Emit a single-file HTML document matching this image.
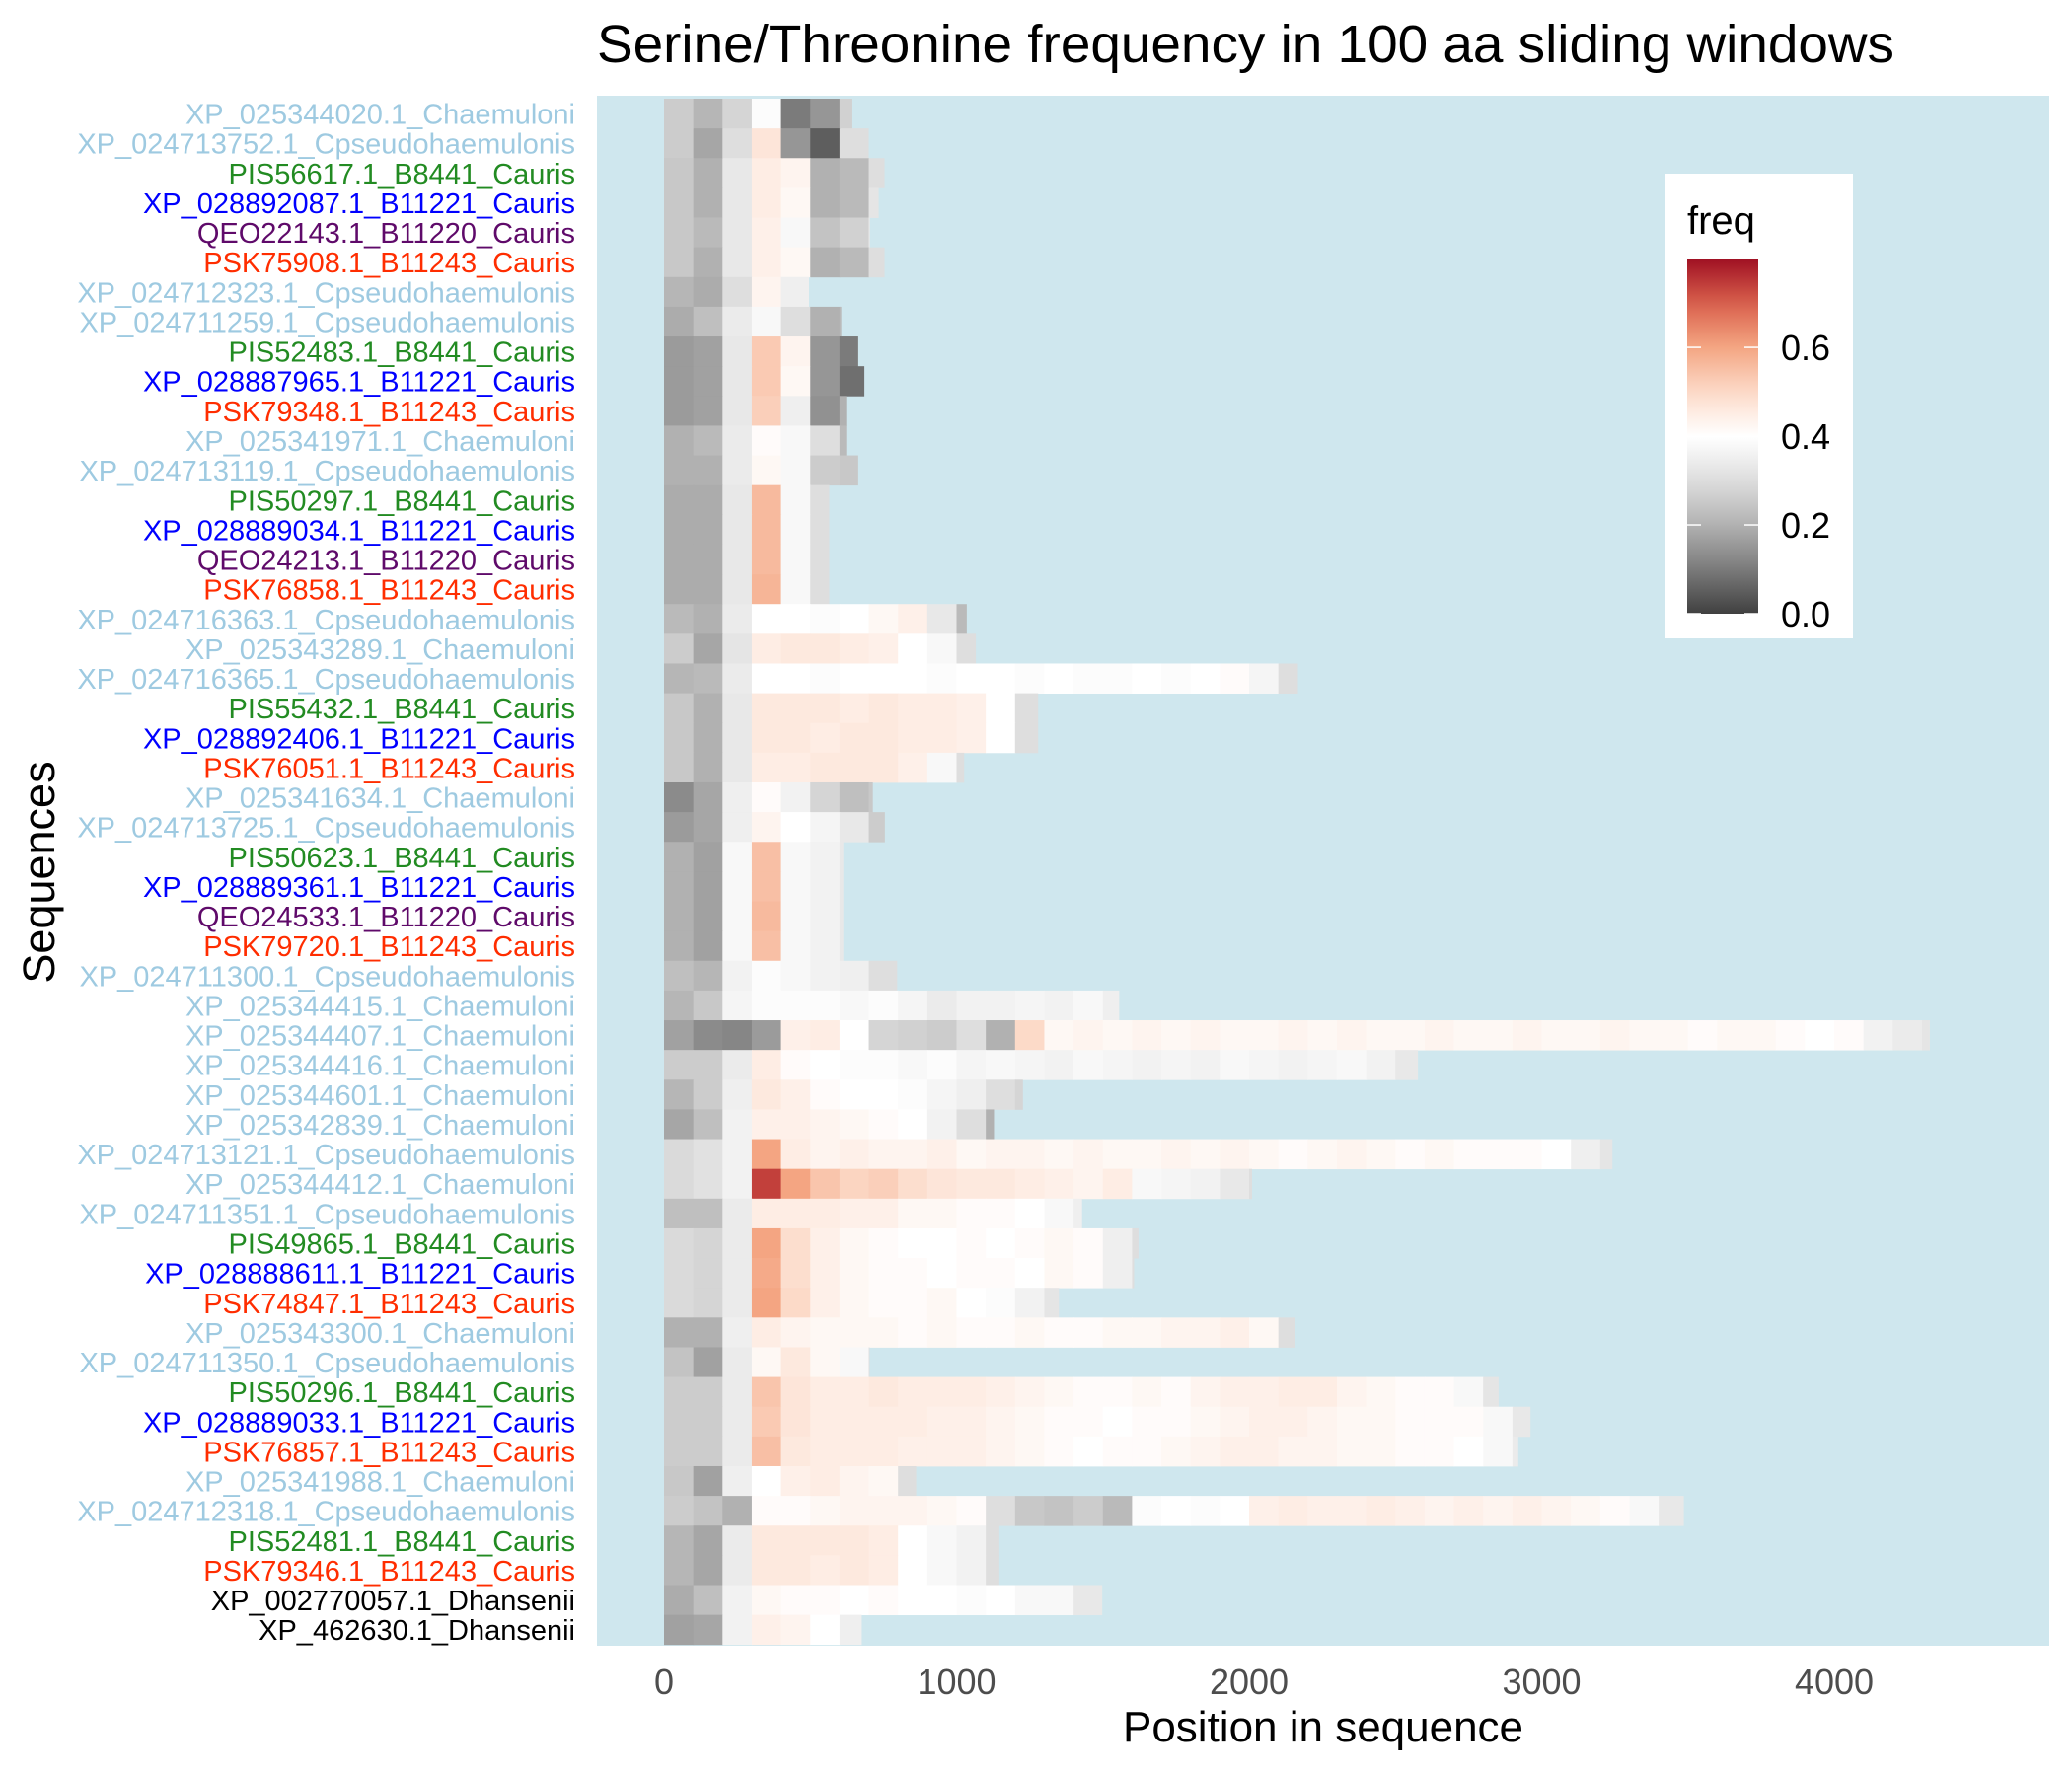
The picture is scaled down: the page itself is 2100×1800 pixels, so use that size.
<!DOCTYPE html>
<html><head><meta charset="utf-8"><title>Serine/Threonine frequency</title>
<style>html,body{margin:0;padding:0;background:#fff;}svg{display:block;font-family:"Liberation Sans",Arial,sans-serif;}</style>
</head><body>
<svg id="chart" width="2100" height="1800" viewBox="0 0 2100 1800" xmlns="http://www.w3.org/2000/svg">
<defs><linearGradient id="cbar" x1="0" y1="1" x2="0" y2="0"></linearGradient></defs>
<rect x="0" y="0" width="2100" height="1800" fill="#fff"/>
<text x="605" y="63" font-size="54" textLength="1315" lengthAdjust="spacingAndGlyphs" fill="#000">Serine/Threonine frequency in 100 aa sliding windows</text>
<rect x="605" y="97" width="1472" height="1571" fill="#cfe7ee"/>
<g id="tiles"></g>
<g id="ylabels"></g>
<g id="xticks"></g>
<text x="1341" y="1765" font-size="44" text-anchor="middle" fill="#000">Position in sequence</text>
<text transform="translate(55,884) rotate(-90)" font-size="45" text-anchor="middle" fill="#000">Sequences</text>
<g id="legend">
<rect x="1687" y="176" width="191" height="471" fill="#fff"/>
<text x="1710" y="237" font-size="40" fill="#000">freq</text>
<rect x="1710" y="263" width="72" height="359" fill="url(#cbar)"/>
<g id="legendticks"></g>
</g>
</svg>
<script>
const names = ["XP_025344020.1_Chaemuloni","XP_024713752.1_Cpseudohaemulonis","PIS56617.1_B8441_Cauris","XP_028892087.1_B11221_Cauris","QEO22143.1_B11220_Cauris","PSK75908.1_B11243_Cauris","XP_024712323.1_Cpseudohaemulonis","XP_024711259.1_Cpseudohaemulonis","PIS52483.1_B8441_Cauris","XP_028887965.1_B11221_Cauris","PSK79348.1_B11243_Cauris","XP_025341971.1_Chaemuloni","XP_024713119.1_Cpseudohaemulonis","PIS50297.1_B8441_Cauris","XP_028889034.1_B11221_Cauris","QEO24213.1_B11220_Cauris","PSK76858.1_B11243_Cauris","XP_024716363.1_Cpseudohaemulonis","XP_025343289.1_Chaemuloni","XP_024716365.1_Cpseudohaemulonis","PIS55432.1_B8441_Cauris","XP_028892406.1_B11221_Cauris","PSK76051.1_B11243_Cauris","XP_025341634.1_Chaemuloni","XP_024713725.1_Cpseudohaemulonis","PIS50623.1_B8441_Cauris","XP_028889361.1_B11221_Cauris","QEO24533.1_B11220_Cauris","PSK79720.1_B11243_Cauris","XP_024711300.1_Cpseudohaemulonis","XP_025344415.1_Chaemuloni","XP_025344407.1_Chaemuloni","XP_025344416.1_Chaemuloni","XP_025344601.1_Chaemuloni","XP_025342839.1_Chaemuloni","XP_024713121.1_Cpseudohaemulonis","XP_025344412.1_Chaemuloni","XP_024711351.1_Cpseudohaemulonis","PIS49865.1_B8441_Cauris","XP_028888611.1_B11221_Cauris","PSK74847.1_B11243_Cauris","XP_025343300.1_Chaemuloni","XP_024711350.1_Cpseudohaemulonis","PIS50296.1_B8441_Cauris","XP_028889033.1_B11221_Cauris","PSK76857.1_B11243_Cauris","XP_025341988.1_Chaemuloni","XP_024712318.1_Cpseudohaemulonis","PIS52481.1_B8441_Cauris","PSK79346.1_B11243_Cauris","XP_002770057.1_Dhansenii","XP_462630.1_Dhansenii"];
const lengths = [644,700,754,734,704,754,496,606,664,685,623,623,664,565,565,565,565,1035,1066,2167,1279,1279,1026,714,755,613,613,613,613,797,1556,4327,2577,1227,1128,3242,2010,1429,1622,1607,1350,2158,703,2853,2962,2920,862,3486,1143,1143,1498,676];
const binSize = 100;
const freqs = [
[0.26,0.21,0.28,0.39,0.1,0.15,0.27],
[0.26,0.18,0.3,0.47,0.15,0.05,0.3],
[0.25,0.2,0.33,0.45,0.43,0.2,0.22,0.3],
[0.25,0.2,0.33,0.45,0.42,0.2,0.22,0.32],
[0.25,0.22,0.33,0.44,0.38,0.24,0.27,0.33],
[0.25,0.2,0.33,0.44,0.42,0.2,0.22,0.3],
[0.21,0.19,0.3,0.43,0.35],
[0.19,0.23,0.34,0.38,0.3,0.2,0.22],
[0.16,0.17,0.33,0.53,0.43,0.15,0.1],
[0.16,0.17,0.33,0.53,0.42,0.15,0.08],
[0.16,0.17,0.33,0.52,0.35,0.14,0.2],
[0.2,0.22,0.34,0.41,0.38,0.3,0.22],
[0.2,0.2,0.34,0.42,0.38,0.26,0.25],
[0.19,0.19,0.33,0.56,0.38,0.3],
[0.19,0.19,0.33,0.56,0.38,0.3],
[0.19,0.19,0.33,0.56,0.38,0.3],
[0.19,0.19,0.33,0.57,0.38,0.3],
[0.22,0.2,0.34,0.4,0.4,0.39,0.4,0.42,0.44,0.33,0.22],
[0.26,0.18,0.32,0.45,0.46,0.46,0.45,0.44,0.4,0.38,0.3],
[0.21,0.22,0.34,0.4,0.4,0.39,0.4,0.4,0.4,0.39,0.4,0.4,0.39,0.4,0.39,0.39,0.4,0.39,0.4,0.41,0.37,0.3],
[0.25,0.2,0.33,0.46,0.46,0.46,0.45,0.46,0.45,0.45,0.44,0.4,0.3],
[0.25,0.2,0.33,0.46,0.46,0.45,0.46,0.46,0.45,0.45,0.44,0.4,0.3],
[0.25,0.2,0.33,0.45,0.45,0.46,0.46,0.46,0.44,0.38,0.3],
[0.13,0.18,0.35,0.41,0.36,0.28,0.23,0.25],
[0.16,0.18,0.35,0.43,0.4,0.37,0.33,0.26],
[0.2,0.17,0.38,0.55,0.38,0.36,0.33],
[0.2,0.17,0.38,0.55,0.38,0.36,0.33],
[0.2,0.17,0.38,0.56,0.38,0.36,0.33],
[0.2,0.17,0.38,0.55,0.38,0.36,0.33],
[0.23,0.21,0.36,0.39,0.38,0.36,0.35,0.3],
[0.21,0.25,0.37,0.39,0.39,0.39,0.38,0.39,0.37,0.34,0.36,0.36,0.37,0.36,0.38,0.35],
[0.17,0.13,0.12,0.16,0.44,0.45,0.4,0.28,0.27,0.26,0.3,0.2,0.5,0.42,0.43,0.42,0.43,0.42,0.43,0.42,0.42,0.43,0.42,0.43,0.42,0.42,0.43,0.42,0.42,0.43,0.42,0.42,0.43,0.42,0.42,0.41,0.42,0.42,0.41,0.4,0.41,0.36,0.34,0.32],
[0.26,0.26,0.34,0.45,0.41,0.4,0.39,0.39,0.38,0.39,0.37,0.38,0.37,0.36,0.38,0.37,0.36,0.37,0.36,0.38,0.37,0.36,0.37,0.38,0.36,0.33],
[0.21,0.26,0.35,0.46,0.44,0.41,0.4,0.4,0.39,0.37,0.35,0.3,0.28],
[0.18,0.23,0.36,0.44,0.44,0.43,0.42,0.41,0.4,0.36,0.3,0.2],
[0.29,0.31,0.36,0.6,0.45,0.43,0.44,0.43,0.43,0.44,0.42,0.43,0.43,0.42,0.43,0.42,0.42,0.43,0.42,0.43,0.42,0.41,0.42,0.43,0.42,0.41,0.42,0.41,0.41,0.41,0.4,0.35,0.32],
[0.29,0.31,0.36,0.74,0.6,0.54,0.51,0.52,0.49,0.47,0.46,0.46,0.45,0.44,0.43,0.45,0.38,0.37,0.36,0.33,0.3],
[0.23,0.23,0.34,0.45,0.45,0.45,0.44,0.44,0.42,0.42,0.41,0.41,0.4,0.38,0.35],
[0.29,0.28,0.34,0.6,0.49,0.44,0.42,0.41,0.4,0.4,0.41,0.4,0.41,0.42,0.41,0.35,0.3],
[0.29,0.28,0.34,0.59,0.49,0.44,0.42,0.41,0.41,0.4,0.41,0.41,0.4,0.42,0.41,0.35,0.3],
[0.29,0.28,0.34,0.6,0.5,0.44,0.42,0.41,0.41,0.42,0.4,0.39,0.36,0.32],
[0.2,0.2,0.35,0.45,0.43,0.42,0.42,0.42,0.41,0.42,0.41,0.41,0.42,0.41,0.41,0.42,0.42,0.43,0.43,0.44,0.42,0.3],
[0.24,0.17,0.34,0.42,0.46,0.42,0.38,0.3],
[0.26,0.26,0.34,0.54,0.47,0.45,0.45,0.46,0.45,0.45,0.45,0.44,0.43,0.42,0.41,0.41,0.42,0.41,0.43,0.44,0.44,0.45,0.45,0.43,0.42,0.41,0.41,0.38,0.32],
[0.26,0.26,0.34,0.53,0.47,0.45,0.45,0.45,0.45,0.44,0.44,0.43,0.42,0.41,0.41,0.4,0.41,0.41,0.42,0.43,0.44,0.44,0.43,0.42,0.42,0.41,0.41,0.41,0.38,0.33],
[0.26,0.26,0.34,0.55,0.46,0.45,0.45,0.45,0.44,0.44,0.44,0.43,0.42,0.41,0.4,0.41,0.41,0.42,0.43,0.44,0.44,0.43,0.43,0.42,0.42,0.41,0.41,0.4,0.38,0.34],
[0.25,0.17,0.35,0.4,0.44,0.45,0.43,0.42,0.3],
[0.26,0.24,0.2,0.41,0.41,0.42,0.43,0.43,0.43,0.42,0.41,0.3,0.25,0.24,0.26,0.22,0.39,0.4,0.39,0.4,0.44,0.45,0.44,0.44,0.45,0.44,0.43,0.44,0.43,0.44,0.43,0.42,0.41,0.38,0.33],
[0.21,0.18,0.34,0.46,0.46,0.46,0.46,0.45,0.4,0.38,0.36,0.3],
[0.21,0.18,0.34,0.46,0.46,0.45,0.46,0.45,0.4,0.38,0.36,0.3],
[0.19,0.23,0.36,0.42,0.41,0.41,0.4,0.41,0.4,0.4,0.39,0.4,0.38,0.38,0.33],
[0.17,0.18,0.36,0.44,0.43,0.4,0.35]
];
const xTicks = [0,1000,2000,3000,4000];
const legendTicks = [0.0,0.2,0.4,0.6];

const NS = "http://www.w3.org/2000/svg";
const X0 = 673, PXPER = 0.2965;
const ROW0 = 100, ROWH = 30.13;
function xScale(p){ return X0 + p*PXPER; }
function yScale(i){ return ROW0 + i*ROWH; }
const CB_TOP = 263, CB_BOT = 622, CB_MAX = 0.798;
function legendY(v){ return CB_BOT - (v/CB_MAX)*(CB_BOT-CB_TOP); }
const stopV = [0,0.1,0.2,0.3,0.4,0.5,0.6,0.7,0.8];
const stopC = ["#404040","#7b7b7b","#b1b1b1","#dedede","#ffffff","#fcdac8","#f4a582","#d9604c","#9f0f22"];
function hex(c){ return [parseInt(c.slice(1,3),16),parseInt(c.slice(3,5),16),parseInt(c.slice(5,7),16)]; }
function color(v){
  v = Math.max(0, Math.min(0.8, v));
  let k = 0;
  while (k < stopV.length-2 && v > stopV[k+1]) k++;
  const t = (v-stopV[k])/(stopV[k+1]-stopV[k]);
  const a = hex(stopC[k]), b = hex(stopC[k+1]);
  return "rgb(" + a.map((x,j)=>Math.round(x+(b[j]-x)*t)).join(",") + ")";
}
function labelColor(n){
  if (n.indexOf("B8441")>=0) return "#228b22";
  if (n.indexOf("B11221")>=0) return "#0000ff";
  if (n.indexOf("B11220")>=0) return "#5f0a6a";
  if (n.indexOf("B11243")>=0) return "#ff2d00";
  if (n.indexOf("Dhansenii")>=0) return "#000000";
  return "#9ecae1";
}
const tiles = document.getElementById("tiles");
freqs.forEach((row, i) => {
  const y = yScale(i);
  row.forEach((v, k) => {
    const s = k*binSize;
    const e = Math.min((k+1)*binSize, lengths[i]);
    if (e <= s) return;
    const r = document.createElementNS(NS, "rect");
    
    
    r.setAttribute("x", xScale(s).toFixed(2));
    r.setAttribute("y", y.toFixed(2));
    r.setAttribute("width", (xScale(e)-xScale(s)+(e<lengths[i]?0.6:0)).toFixed(2));
    r.setAttribute("height", (ROWH+0.4).toFixed(2));
    r.setAttribute("fill", color(v));
    tiles.appendChild(r);
  });
});
const yl = document.getElementById("ylabels");
names.forEach((n, i) => {
  const t = document.createElementNS(NS, "text");
  
  
  t.setAttribute("x", 583);
  t.setAttribute("y", (yScale(i)+ROWH/2+10.5).toFixed(1));
  t.setAttribute("font-size", "29");
  t.setAttribute("text-anchor", "end");
  t.setAttribute("fill", labelColor(n));
  t.textContent = n;
  yl.appendChild(t);
});
const xt = document.getElementById("xticks");
xTicks.forEach(v => {
  const t = document.createElementNS(NS, "text");
  
  
  t.setAttribute("x", xScale(v).toFixed(1));
  t.setAttribute("y", 1717);
  t.setAttribute("font-size", "36");
  t.setAttribute("text-anchor", "middle");
  t.setAttribute("fill", "#4d4d4d");
  t.textContent = String(v);
  xt.appendChild(t);
});
const grad = document.getElementById("cbar");
for (let s = 0; s <= 20; s++) {
  const v = CB_MAX*s/20;
  const st = document.createElementNS(NS, "stop");
  st.setAttribute("offset", (s/20).toFixed(3));
  st.setAttribute("stop-color", color(v));
  grad.appendChild(st);
}
const lt = document.getElementById("legendticks");
legendTicks.forEach(v => {
  const y = legendY(v);
  [[1710,1724],[1768,1782]].forEach(seg => {
    const l = document.createElementNS(NS, "line");
    
    
    l.setAttribute("x1", seg[0]); l.setAttribute("x2", seg[1]);
    l.setAttribute("y1", y); l.setAttribute("y2", y);
    l.setAttribute("stroke", "#fff"); l.setAttribute("stroke-width", "1.5");
    lt.appendChild(l);
  });
  const t = document.createElementNS(NS, "text");
  
  
  t.setAttribute("x", 1805);
  t.setAttribute("y", (y+13).toFixed(1));
  t.setAttribute("font-size", "36");
  t.setAttribute("fill", "#000");
  t.textContent = v.toFixed(1);
  lt.appendChild(t);
});
</script>
</body></html>
